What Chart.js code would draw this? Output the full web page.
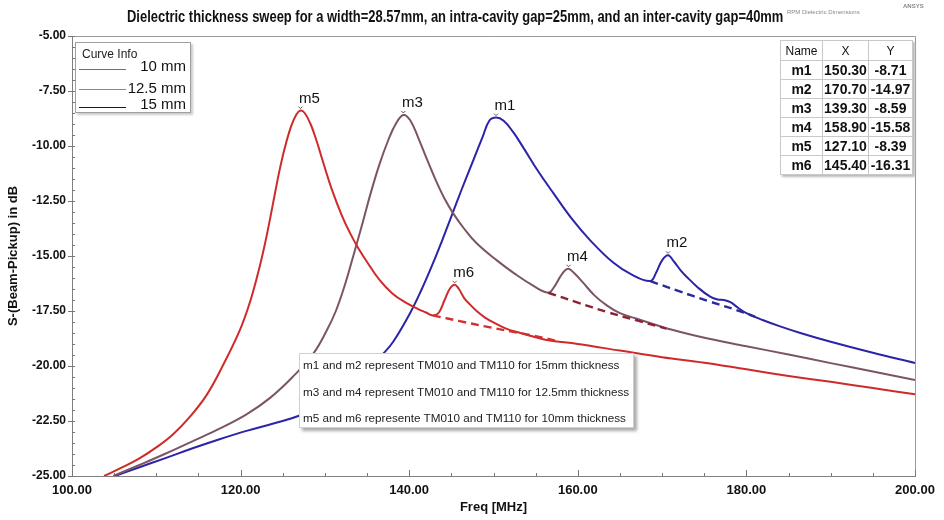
<!DOCTYPE html>
<html>
<head>
<meta charset="utf-8">
<script src="https://cdn.jsdelivr.net/npm/chart.js@4.4.1/dist/chart.umd.min.js"></script>
<style>
  body { margin: 0; background: #fff; }
  #wrap { position: relative; width: 944px; height: 520px; overflow: hidden; font-family: 'Liberation Sans', Arial, sans-serif; }
  #plot { position: absolute; left: 0; top: 0; }
  .abs { position: absolute; white-space: nowrap; }
  #title { left: 127px; top: 8px; font: bold 16px 'Liberation Sans', sans-serif; color: #111; transform-origin: 0 0; }
  #sub { left: 787px; top: 9px; font: 6px 'Liberation Sans', sans-serif; color: #888; }
  #brand { left: 903px; top: 3px; font: bold 6px 'Liberation Sans', sans-serif; color: #888; }
  #legend { left: 75px; top: 42px; width: 114px; height: 69px; border: 1px solid #a0a0a0; background: #fff; box-shadow: 2px 2px 2px #ccc; }
  #legend .cap { position: absolute; left: 6px; top: 4px; font-size: 12px; color: #222; }
  #legend .row { position: absolute; left: 3px; right: 4px; height: 18px; }
  #legend .row i { position: absolute; left: 0; width: 47px; height: 1px; }
  #legend .row span { position: absolute; right: 0; top: 0; font-size: 15px; line-height: 17px; color: #111; }
  #markers { left: 780px; top: 40px; width: 131px; table-layout: fixed; border-collapse: collapse; background: #fff; box-shadow: 2px 2px 2px #bbb; border: 1px solid #777; }
  #markers td { border: 1px solid #c8c8c8; height: 18px; padding: 0; text-align: center; font: bold 14px 'Liberation Sans', sans-serif; color: #111; }
  #markers tr:first-child td { font: 12px 'Liberation Sans', sans-serif; height: 19px; }
  #note { left: 299px; top: 353px; width: 333px; height: 73px; background: #fff; border: 1px solid #d0d0d0; box-shadow: 3px 3px 3px #aaa; }
  #note div { position: absolute; left: 3px; font-size: 11.7px; color: #222; }
</style>
</head>
<body>
<div id="wrap">
  <canvas id="plot" width="944" height="520"></canvas>
  <div id="title" class="abs">Dielectric thickness sweep for a width=28.57mm, an intra-cavity gap=25mm, and an inter-cavity gap=40mm</div>
  <div id="sub" class="abs">RPM Dielectric Dimensions</div>
  <div id="brand" class="abs">ANSYS</div>
  <div id="legend" class="abs"></div>
  <table id="markers" class="abs"></table>
  <div id="note" class="abs">
    <div style="top:4px">m1 and m2 represent TM010 and TM110 for 15mm thickness</div>
    <div style="top:31px">m3 and m4 represent TM010 and TM110 for 12.5mm thickness</div>
    <div style="top:57px">m5 and m6 represente TM010 and TM110 for 10mm thickness</div>
  </div>
</div>
<script>
// 10 mm dielectric
const freq10 = [103.8, 106, 108, 110, 112, 114, 116, 118, 119.9, 121, 122, 122.8, 123.5, 124.1, 124.7, 125.3, 126, 126.6, 127.1,
  127.6, 128.3, 129, 129.8, 130.8, 132, 133, 134, 135, 136.5, 138, 139.5, 141, 142, 142.8,
  143.5, 144.2, 144.8, 145.4, 145.9, 146.5, 147.2, 148, 149, 150, 151.5, 153, 154.5, 156.3,
  160, 165, 170, 175, 180, 185, 190, 195, 200];
const db10 = [-25.0, -24.6, -24.2, -23.7, -23.1, -22.3, -21.3, -19.9, -18.38, -17.23, -15.88, -14.6, -13.3, -12.1, -10.96, -10.0, -9.1, -8.58, -8.39,
  -8.5, -9.0, -9.75, -10.75, -11.95, -13.15, -13.97, -14.67, -15.27, -16.1, -16.7, -17.1, -17.4, -17.57, -17.7,
  -17.58, -17.0, -16.5, -16.31, -16.5, -16.9, -17.2, -17.5, -17.8, -18.02, -18.3, -18.48, -18.64, -18.82,
  -19.0, -19.3, -19.6, -19.85, -20.15, -20.45, -20.72, -21.0, -21.29];

// 12.5 mm dielectric
const freq12 = [104.9, 108, 111, 114.4, 117.5, 120.7, 123.5, 126.2, 128.6, 130.2, 131.3, 132.3, 133.4, 134.5, 135.5, 136.5, 137.5, 138.4, 139.3,
  140.1, 141.1, 142.1, 143.2, 144.2, 145.2, 146.5, 148, 150.4, 152.5, 154.5, 156.5,
  157.2, 157.9, 158.5, 158.9, 159.5, 160.6, 162, 163.4, 165, 167, 169, 170.5,
  174.5, 180, 185, 190, 195, 200];
const db12 = [-25.0, -24.5, -24.0, -23.4, -22.85, -22.2, -21.45, -20.49, -19.45, -18.4, -17.5, -16.4, -14.95, -13.45, -12.05, -10.8, -9.75, -9.0, -8.59,
  -8.82, -9.65, -10.6, -11.6, -12.4, -13.05, -13.75, -14.42, -15.2, -15.8, -16.3, -16.67,
  -16.4, -15.95, -15.65, -15.58, -15.75, -16.2, -16.8, -17.23, -17.6, -17.85, -18.1, -18.28,
  -18.67, -19.1, -19.48, -19.87, -20.25, -20.64];

// 15 mm dielectric
const freq15 = [105.1, 108, 111, 114.4, 117.5, 120.7, 124, 127, 129.5, 132, 134.5, 136.9, 138.1, 140.1, 141.5, 142.8, 143.8, 144.8, 146.2, 147.6, 148.7, 149.5, 150.3,
  151.2, 152.3, 153.5, 155.3, 157.1, 159.4, 161.5, 164.2, 166.4, 168.6,
  169.3, 170.0, 170.7, 171.4, 172.2, 172.9, 174.3, 175.7, 176.6, 177.3, 178.1, 179, 180, 182, 184, 186.4, 190, 195, 200];
const db15 = [-25.0, -24.6, -24.2, -23.73, -23.33, -22.95, -22.6, -22.25, -21.75, -21.15, -20.4, -19.45, -18.9, -17.6, -16.5, -15.35, -14.4, -13.4, -12.0, -10.65, -9.6, -8.85, -8.71,
  -8.85, -9.35, -10.05, -11.15, -12.14, -13.36, -14.3, -15.3, -15.85, -16.14,
  -15.75, -15.2, -14.97, -15.25, -15.65, -15.94, -16.45, -16.85, -16.98, -17.0, -17.1, -17.35, -17.6, -17.92, -18.2, -18.5, -18.9, -19.4, -19.86];

// baselines under the TM110 bumps (dashed)
const baseFreq10 = [142.8, 146, 149, 152, 155, 157.5];
const baseDb10 = [-17.7, -17.96, -18.2, -18.42, -18.64, -18.86];
const baseFreq12 = [156.5, 160, 163.5, 167, 170.5];
const baseDb12 = [-16.67, -17.12, -17.55, -17.93, -18.3];
const baseFreq15 = [168.6, 172, 175.5, 179, 181];
const baseDb15 = [-16.14, -16.6, -17.05, -17.48, -17.76];

// markers
const markerNames = ['m1', 'm2', 'm3', 'm4', 'm5', 'm6'];
const markerX = [150.30, 170.70, 139.30, 158.90, 127.10, 145.40];
const markerY = [-8.71, -14.97, -8.59, -15.58, -8.39, -16.31];

const xTicks = [100, 120, 140, 160, 180, 200];
const yTicks = [-25, -22.5, -20, -17.5, -15, -12.5, -10, -7.5, -5];

const seriesNames = ['10 mm', '12.5 mm', '15 mm'];
const seriesColors = ['#cf2a2a', '#7b5566', '#2b24a8'];
const legendColors = ['#d04848', '#8a8a8a', '#1a1a1a'];

function pts(xs, ys) {
  return xs.map((x, i) => ({ x: x, y: ys[i] }));
}

function curve(label, xs, ys, color, dashed) {
  return {
    label: label,
    data: pts(xs, ys),
    borderColor: color,
    borderWidth: dashed ? 2.4 : 2,
    borderDash: dashed ? [8, 5] : [],
    pointRadius: 0,
    fill: false,
    tension: 0.4
  };
}

// frame, minor ticks and marker labels
const decor = {
  id: 'decor',
  beforeDatasetsDraw(chart) {
    const { ctx, chartArea: a, scales: { x, y } } = chart;
    ctx.save();
    ctx.strokeStyle = '#9a9a9a';
    ctx.lineWidth = 1;
    ctx.beginPath();
    ctx.moveTo(a.left, a.top + 0.5);
    ctx.lineTo(a.right + 0.5, a.top + 0.5);
    ctx.lineTo(a.right + 0.5, a.bottom);
    ctx.stroke();
    ctx.strokeStyle = '#777';
    ctx.beginPath();
    for (let v = 100; v <= 200; v += 5) {
      const px = Math.round(x.getPixelForValue(v)) + 0.5;
      const len = v % 20 === 0 ? 6 : 3;
      ctx.moveTo(px, a.bottom);
      ctx.lineTo(px, a.bottom - len);
    }
    for (let v = -25; v <= -5; v += 0.5) {
      const py = Math.round(y.getPixelForValue(v)) + 0.5;
      const major = Math.abs(v / 2.5 - Math.round(v / 2.5)) < 1e-6;
      ctx.moveTo(a.left - (major ? 4 : 0), py);
      ctx.lineTo(a.left + 3, py);
    }
    ctx.stroke();
    ctx.restore();
  },
  afterDatasetsDraw(chart) {
    const { ctx, scales: { x, y } } = chart;
    ctx.save();
    ctx.font = '15px "Liberation Sans", Arial, sans-serif';
    ctx.fillStyle = '#111';
    ctx.textAlign = 'center';
    ctx.textBaseline = 'middle';
    ctx.strokeStyle = '#555';
    ctx.lineWidth = 1;
    markerNames.forEach((name, i) => {
      const px = x.getPixelForValue(markerX[i]);
      const py = y.getPixelForValue(markerY[i]);
      ctx.fillText(name, px + 9, py - 12);
      ctx.beginPath();
      ctx.moveTo(px - 2, py - 4);
      ctx.lineTo(px, py - 2);
      ctx.lineTo(px + 2, py - 4);
      ctx.stroke();
    });
    ctx.restore();
  }
};

const ctx = document.getElementById('plot').getContext('2d');
new Chart(ctx, {
  type: 'line',
  data: {
    datasets: [
      curve('base10', baseFreq10, baseDb10, '#d23030', true),
      curve('base12', baseFreq12, baseDb12, '#8e2232', true),
      curve('base15', baseFreq15, baseDb15, '#2b2a9c', true),
      curve(seriesNames[0], freq10, db10, seriesColors[0], false),
      curve(seriesNames[1], freq12, db12, seriesColors[1], false),
      curve(seriesNames[2], freq15, db15, seriesColors[2], false)
    ]
  },
  options: {
    responsive: false,
    animation: false,
    devicePixelRatio: 1,
    layout: { padding: { left: 0, right: 29, top: 36, bottom: 0 } },
    plugins: {
      legend: { display: false },
      tooltip: { enabled: false }
    },
    scales: {
      x: {
        type: 'linear',
        min: 100,
        max: 200,
        afterFit: s => { s.height = 44; },
        afterBuildTicks: s => { s.ticks = xTicks.map(v => ({ value: v })); },
        grid: { display: false, drawTicks: false },
        border: { display: true, color: '#808080' },
        ticks: {
          padding: 7,
          color: '#111',
          font: { family: "'Liberation Sans'", size: 13, weight: 'bold' },
          callback: v => v.toFixed(2)
        },
        title: {
          display: true,
          text: 'Freq [MHz]',
          color: '#111',
          font: { family: "'Liberation Sans'", size: 13, weight: 'bold' },
          padding: { top: 0, bottom: 5 }
        }
      },
      y: {
        min: -25,
        max: -5,
        afterFit: s => { s.width = 72; },
        afterBuildTicks: s => { s.ticks = yTicks.map(v => ({ value: v })); },
        grid: { display: false, drawTicks: false },
        border: { display: true, color: '#808080' },
        ticks: {
          padding: 6,
          color: '#111',
          font: { family: "'Liberation Sans'", size: 12, weight: 'bold' },
          callback: v => v.toFixed(2)
        },
        title: {
          display: true,
          text: 'S-(Beam-Pickup) in dB',
          color: '#111',
          font: { family: "'Liberation Sans'", size: 13, weight: 'bold' },
          padding: { top: 6, bottom: 0 }
        }
      }
    }
  },
  plugins: [decor]
});

// legend box
const legend = document.getElementById('legend');
legend.innerHTML = '<div class="cap">Curve Info</div>';
const rowTops = [14, 36, 52];
const lineTops = [12, 10, 12];
seriesNames.forEach((name, i) => {
  const row = document.createElement('div');
  row.className = 'row';
  row.style.top = rowTops[i] + 'px';
  row.innerHTML = '<i style="top:' + lineTops[i] + 'px;background:' + legendColors[i] + '"></i><span>' + name + '</span>';
  legend.appendChild(row);
});

// marker table
const table = document.getElementById('markers');
let html = '<tr><td style="width:41px">Name</td><td style="width:45px">X</td><td style="width:43px">Y</td></tr>';
markerNames.forEach((name, i) => {
  html += '<tr><td>' + name + '</td><td>' + markerX[i].toFixed(2) + '</td><td>' + markerY[i].toFixed(2) + '</td></tr>';
});
table.innerHTML = html;

// stretch the heading to its span
const title = document.getElementById('title');
title.style.transform = 'scaleX(' + (656 / title.offsetWidth) + ')';
</script>
</body>
</html>
